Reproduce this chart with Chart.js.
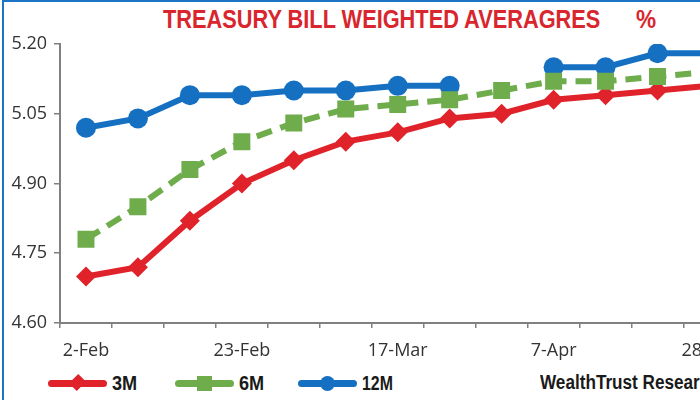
<!DOCTYPE html>
<html>
<head>
<meta charset="utf-8">
<script src="https://cdn.jsdelivr.net/npm/chart.js@4"></script>
<style>
  html, body { margin: 0; padding: 0; width: 700px; height: 400px; overflow: hidden; background: #fff; }
  #frame { position: absolute; left: 2px; top: 0; width: 800px; height: 500px;
           border-left: 2px solid #1c74c4; border-top: 2px solid #1c74c4; }
  #box { position: absolute; left: 0; top: 0; width: 750px; height: 370px; }
  .cond { position: absolute; white-space: pre; transform-origin: 0 0; display: inline-block;
          font-family: "Liberation Sans", Arial, sans-serif; font-weight: bold; }
  #title { left: 163px; top: 4px; color: #d9262e; font-size: 26px; }
  #pct { left: 636px; top: 4px; color: #d9262e; font-size: 26px; }
  .leg { position: absolute; top: 370px; height: 26px; }
  .leg .line { position: absolute; top: 10px; left: 0; width: 59px; height: 7px; border-radius: 4px; }
  .leg .mk { position: absolute; }
  .leg .cond { left: 64px; top: 1px; color: #1a1a1a; font-size: 21px; }
  #source { left: 540px; top: 371px; color: #1a1a1a; font-size: 20px; }
</style>
</head>
<body>
<div id="frame"></div>
<div id="title" class="cond" data-w="437">TREASURY BILL WEIGHTED AVERAGRES</div>
<div id="pct" class="cond" data-w="20">%</div>
<div id="box"><canvas id="c"></canvas></div>
<div id="legend"></div>
<div id="source" class="cond" data-w="180">WealthTrust Research</div>
<script>
const $ = id => document.getElementById(id);

// weekly auction dates
const dates = ["2-Feb", "9-Feb", "16-Feb", "23-Feb", "2-Mar", "9-Mar", "17-Mar",
               "24-Mar", "31-Mar", "7-Apr", "14-Apr", "21-Apr", "28-Apr"];
const shownDates = ["2-Feb", "23-Feb", "17-Mar", "7-Apr", "28-Apr"];
const yTicks = [4.60, 4.75, 4.90, 5.05, 5.20];

const bill3M  = [4.70, 4.72, 4.82, 4.90, 4.95, 4.99, 5.01, 5.04, 5.05, 5.08, 5.09, 5.10, 5.11];
const bill6M  = [4.78, 4.85, 4.93, 4.99, 5.03, 5.06, 5.07, 5.08, 5.10, 5.12, 5.12, 5.13, 5.14];
const bill12M = [5.02, 5.04, 5.09, 5.09, 5.10, 5.10, 5.11, 5.11, null, 5.15, 5.15, 5.18, 5.18];

const RED = "#e0232a", GREEN = "#6fac4c", BLUE = "#1570c2";
const TICK_FONT = { family: "Open Sans", size: 18 };

new Chart($("c"), {
  type: "line",
  data: {
    labels: dates,
    datasets: [
      { label: "3M", data: bill3M, borderColor: RED, backgroundColor: RED, borderWidth: 6,
        pointStyle: "rectRot", pointRadius: 10, pointBorderWidth: 0, tension: 0, order: 2 },
      { label: "6M", data: bill6M, borderColor: GREEN, backgroundColor: GREEN, borderWidth: 6,
        borderDash: [16, 9], pointStyle: "rect", pointRadius: 12, pointBorderWidth: 0, tension: 0, order: 1 },
      { label: "12M", data: bill12M, borderColor: BLUE, backgroundColor: BLUE, borderWidth: 6,
        pointStyle: "circle", pointRadius: 10, pointBorderWidth: 0, tension: 0, spanGaps: false, order: 3 },
    ],
  },
  options: {
    responsive: true, maintainAspectRatio: false, animation: false,
    layout: { padding: { top: 44, right: 5, left: 0, bottom: 0 } },
    plugins: { legend: { display: false }, tooltip: { enabled: false } },
    scales: {
      x: {
        offset: true,
        grid: { offset: true, drawOnChartArea: false, tickLength: 5, color: "#808080", lineWidth: 1.5 },
        border: { color: "#808080", width: 2 },
        ticks: {
          autoSkip: false, maxRotation: 0, padding: 12, color: "#333", font: TICK_FONT,
          callback: (v, i) => shownDates.includes(dates[i]) ? dates[i] : "",
        },
        afterFit: s => { s.height = 47; },
      },
      y: {
        min: 4.6, max: 5.2,
        grid: { drawOnChartArea: false, tickLength: 6, color: "#808080", lineWidth: 1.5 },
        border: { color: "#808080", width: 2 },
        ticks: { padding: 7, color: "#333", font: TICK_FONT, callback: v => v.toFixed(2) },
        afterBuildTicks: s => { s.ticks = yTicks.map(v => ({ value: v })); },
        afterFit: s => { s.width = 60; },
      },
    },
  },
});

// legend: line with marker, as in the printed chart
const legendItems = [
  { name: "3M", color: RED, left: 48, mark: "diamond", w: 25 },
  { name: "6M", color: GREEN, left: 175, mark: "square", w: 25 },
  { name: "12M", color: BLUE, left: 298, mark: "circle", w: 31 },
];
for (const it of legendItems) {
  const el = document.createElement("div");
  el.className = "leg";
  el.style.left = it.left + "px";
  let mk;
  if (it.mark === "diamond")
    mk = `left:24px;top:7px;width:11px;height:11px;transform:rotate(45deg) scaleY(1.2);background:${it.color}`;
  else if (it.mark === "square")
    mk = `left:22px;top:6px;width:15px;height:15px;background:${it.color}`;
  else
    mk = `left:22px;top:6px;width:15px;height:15px;border-radius:50%;background:${it.color}`;
  el.innerHTML = `<div class="line" style="background:${it.color}"></div>
    <div class="mk" style="${mk}"></div><div class="cond" data-w="${it.w}">${it.name}</div>`;
  $("legend").appendChild(el);
}

// squeeze the bold texts to the narrow widths of the print
document.querySelectorAll(".cond").forEach(el => {
  const w = +el.dataset.w;
  if (w) el.style.transform = `scaleX(${w / el.offsetWidth})`;
});
</script>
</body>
</html>
